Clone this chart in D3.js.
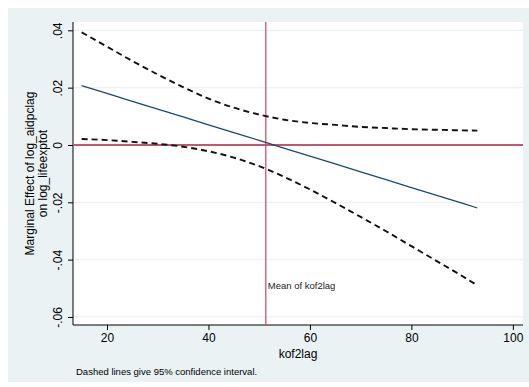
<!DOCTYPE html>
<html>
<head>
<meta charset="utf-8">
<script src="https://cdn.jsdelivr.net/npm/d3@7"></script>
<style>
  html, body { margin: 0; padding: 0; background: #ffffff; }
  svg { display: block; font-family: "Liberation Sans", Arial, Helvetica, sans-serif; }
</style>
</head>
<body>
<svg id="chart" width="529" height="387"></svg>
<script>
// kof2lag evaluation points
const kof = [15, 20, 25, 30, 35, 40, 45, 50, 55, 60, 65, 70, 75, 80, 85, 90, 93];
// marginal effect of log_aidpclag on log_lifeexptot
const effect = [0.0207, 0.0180, 0.0152, 0.0125, 0.0098, 0.0070, 0.0043, 0.0016, -0.0012,
                -0.0039, -0.0066, -0.0094, -0.0121, -0.0149, -0.0176, -0.0203, -0.0220];
// 95% confidence bounds
const upper = [0.0393, 0.0343, 0.0293, 0.0246, 0.0202, 0.0162, 0.0130, 0.0106, 0.0088,
               0.0077, 0.0070, 0.0063, 0.0059, 0.0055, 0.0053, 0.0051, 0.0050];
const lower = [0.0021, 0.0017, 0.0011, 0.0004, -0.0006, -0.0022, -0.0044, -0.0074, -0.0112,
               -0.0155, -0.0202, -0.0251, -0.0301, -0.0353, -0.0405, -0.0457, -0.0490];
const meanKof = 51.3;

const xTicks = [20, 40, 60, 80, 100];
const yTicks = [0.04, 0.02, 0, -0.02, -0.04, -0.06];
const yTickLabels = [".04", ".02", "0", "-.02", "-.04", "-.06"];

const svg = d3.select("#chart");
const W = 529, H = 387;
const plot = { left: 73, right: 523, top: 22, bottom: 325 };

const x = d3.scaleLinear().domain([13.3, 102]).range([plot.left, plot.right]);
const y = d3.scaleLinear().domain([-0.0628, 0.0429]).range([plot.bottom, plot.top]);

// graph region and plot region backgrounds
svg.append("rect").attr("x", 8).attr("y", 8).attr("width", W - 8).attr("height", 374)
  .attr("fill", "#eaf2f3");
svg.append("rect").attr("x", plot.left).attr("y", plot.top)
  .attr("width", plot.right - plot.left).attr("height", plot.bottom - plot.top)
  .attr("fill", "#ffffff");

// horizontal grid lines
svg.append("g").selectAll("line").data(yTicks).join("line")
  .attr("x1", plot.left).attr("x2", plot.right)
  .attr("y1", d => y(d)).attr("y2", d => y(d))
  .attr("stroke", "#eaf2f3").attr("stroke-width", 1.2);

// y axis
const yAxis = d3.axisLeft(y).tickValues(yTicks)
  .tickFormat((d, i) => yTickLabels[i]).tickSize(5).tickPadding(4);
const gy = svg.append("g").attr("transform", `translate(${plot.left},0)`).call(yAxis);
gy.select(".domain").attr("d", `M0,${plot.top}V${plot.bottom}`).attr("stroke", "#000");
gy.selectAll(".tick line").attr("stroke", "#000");
gy.selectAll(".tick text")
  .attr("font-size", 12).attr("fill", "#000").attr("font-family", "Liberation Sans, Arial, sans-serif")
  .attr("text-anchor", "middle").attr("dy", null).attr("x", null)
  .attr("transform", "translate(-15,0) rotate(-90)")
  .attr("dominant-baseline", "central");

// x axis
const xAxis = d3.axisBottom(x).tickValues(xTicks).tickSize(5).tickPadding(3);
const gx = svg.append("g").attr("transform", `translate(0,${plot.bottom})`).call(xAxis);
gx.select(".domain").attr("d", `M${plot.left},0H${plot.right}`).attr("stroke", "#000");
gx.selectAll(".tick line").attr("stroke", "#000");
gx.selectAll(".tick text").attr("font-size", 12).attr("fill", "#000")
  .attr("font-family", "Liberation Sans, Arial, sans-serif");

// reference lines: zero effect and mean of kof2lag
svg.append("line").attr("x1", plot.left).attr("x2", plot.right)
  .attr("y1", y(0)).attr("y2", y(0))
  .attr("stroke", "#cc5274").attr("stroke-width", 1.8);
svg.append("line").attr("x1", x(meanKof)).attr("x2", x(meanKof))
  .attr("y1", plot.top).attr("y2", plot.bottom)
  .attr("stroke", "#cc5274").attr("stroke-width", 1.3);

const pts = kof.map((k, i) => ({ k, e: effect[i], u: upper[i], l: lower[i] }));

// confidence bounds
const bound = key => d3.line().x(d => x(d.k)).y(d => y(d[key])).curve(d3.curveMonotoneX);
["u", "l"].forEach(key => {
  svg.append("path").datum(pts).attr("d", bound(key))
    .attr("fill", "none").attr("stroke", "#111").attr("stroke-width", 1.9)
    .attr("stroke-dasharray", "6,4");
});

// marginal effect line
svg.append("path").datum(pts)
  .attr("d", d3.line().x(d => x(d.k)).y(d => y(d.e)))
  .attr("fill", "none").attr("stroke", "#1a476f").attr("stroke-width", 1.2);

// annotation for the mean line
svg.append("text").attr("x", x(meanKof) + 2).attr("y", 289)
  .attr("font-size", 9.5).attr("fill", "#222").text("Mean of kof2lag");

// axis titles
svg.append("text").attr("x", (plot.left + plot.right) / 2).attr("y", 358)
  .attr("text-anchor", "middle").attr("font-size", 12).attr("fill", "#000").text("kof2lag");

const yTitle = svg.append("text")
  .attr("transform", `translate(0,${(plot.top + plot.bottom) / 2}) rotate(-90)`)
  .attr("text-anchor", "middle").attr("font-size", 12).attr("fill", "#000");
yTitle.append("tspan").attr("x", 0).attr("y", 34).text("Marginal Effect of log_aidpclag");
yTitle.append("tspan").attr("x", 0).attr("y", 47).text("on log_lifeexptot");

// note
svg.append("text").attr("x", 76).attr("y", 375)
  .attr("font-size", 9.5).attr("fill", "#000").text("Dashed lines give 95% confidence interval.");
</script>
</body>
</html>
